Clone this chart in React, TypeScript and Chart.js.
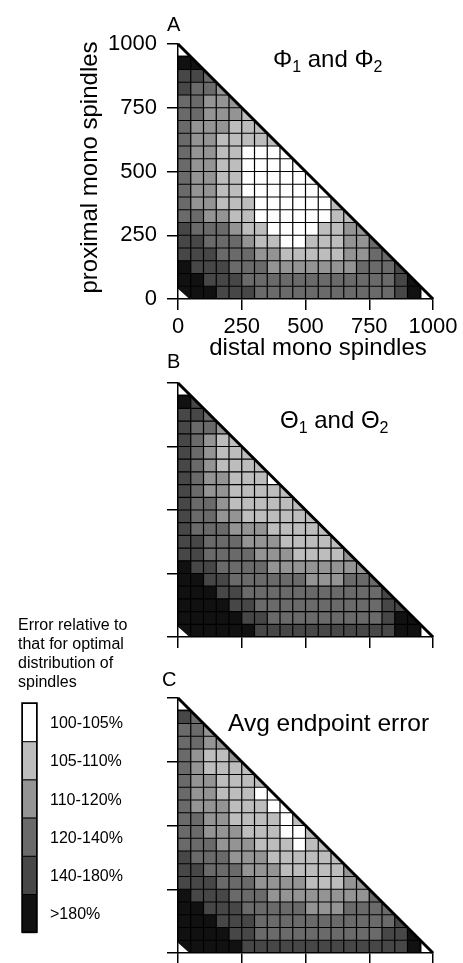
import React, { useEffect, useRef } from 'react';
import { Chart, registerables } from 'chart.js';

Chart.register(...registerables);

const FONT = '"Liberation Sans", Arial, Helvetica, sans-serif';
const AXIS_MAX = 1000;
const CELL = 50;
const TICK_VALUES = [0, 250, 500, 750, 1000];
const TICK_LABELS = ['0', '250', '500', '750', '1000'];
const LEVEL_COLORS = ['#ffffff', '#bdbdbd', '#949494', '#6a6a6a', '#474747', '#111111'];
const LEVEL_LABELS = ['100-105%', '105-110%', '110-120%', '120-140%', '140-180%', '>180%'];
const LEGEND_TITLE = ['Error relative to', 'that for optimal', 'distribution of', 'spindles'];
const X_TITLE = 'distal mono spindles';
const Y_TITLE = 'proximal mono spindles';
// heat-map region (data units): triangle with the three corners cut off
const CLIP_POLY = [[0, 955], [45, 955], [955, 45], [955, 0], [45, 0], [0, 40]];
const DIAGONAL = [{ x: 0, y: AXIS_MAX }, { x: AXIS_MAX, y: 0 }];

// rows of error levels (0 = 100-105% ... 5 = >180%), top row (proximal 950-1000) first,
// each character is one 50x50 cell starting at distal 0
const PHI_ROWS = [
  '5',
  '55',
  '443',
  '4332',
  '33222',
  '332221',
  '3222111',
  '32211111',
  '322110000',
  '3221100000',
  '32211000000',
  '322110000000',
  '3221110000001',
  '33221100000011',
  '433321100001122',
  '4433321100111223',
  '44433322111112233',
  '544433322222223334',
  '5544433333333333345',
  '55544433333333333455',
];

const THETA_ROWS = [
  '5',
  '54',
  '443',
  '4332',
  '43211',
  '432111',
  '4321111',
  '43221110',
  '432211111',
  '4332111111',
  '43322111111',
  '433322211111',
  '4433322211111',
  '44333322211112',
  '544333322222222',
  '5544333333222333',
  '55544333333333334',
  '555544333333333344',
  '5555544333333333455',
  '55555544444444444555',
];

const AVG_ROWS = [
  '5',
  '43',
  '332',
  '3322',
  '32112',
  '321111',
  '3221111',
  '32211100',
  '322211100',
  '3322111101',
  '33222111001',
  '333222111011',
  '4333222111111',
  '44333222111112',
  '444333222211122',
  '5444333222222223',
  '55444333332223333',
  '555444333333333334',
  '5555443333333333445',
  '55555444444444444455',
];

type TitlePart = [string, boolean];
const PHI_TITLE: TitlePart[] = [['Φ', false], ['1', true], [' and Φ', false], ['2', true]];
const THETA_TITLE: TitlePart[] = [['Θ', false], ['1', true], [' and Θ', false], ['2', true]];
const AVG_TITLE: TitlePart[] = [['Avg endpoint error', false]];

interface PanelSpec {
  key: string;
  top: number;
  height: number;
  padTop: number;
  xHeight: number;
  rows: string[];
  title: TitlePart[];
  titleX: number;
  titleY: number;
  titleSize: number;
  label: string;
  labelX: number;
  labelY: number;
  showLabels: boolean;
  axisTitles: boolean;
  legend: boolean;
}

const PANELS: PanelSpec[] = [
  { key: 'A', top: 0, height: 370, padTop: 44, xHeight: 71, rows: PHI_ROWS, title: PHI_TITLE, titleX: 273, titleY: 67, titleSize: 24, label: 'A', labelX: 167, labelY: 31, showLabels: true, axisTitles: true, legend: false },
  { key: 'B', top: 340, height: 315, padTop: 43, xHeight: 18, rows: THETA_ROWS, title: THETA_TITLE, titleX: 280, titleY: 88, titleSize: 24, label: 'B', labelX: 167, labelY: 28, showLabels: false, axisTitles: false, legend: false },
  { key: 'C', top: 600, height: 363, padTop: 98, xHeight: 10, rows: AVG_ROWS, title: AVG_TITLE, titleX: 228, titleY: 131, titleSize: 24.5, label: 'C', labelX: 162, labelY: 86, showLabels: false, axisTitles: false, legend: true },
];

function makePlugin(spec: PanelSpec) {
  return {
    id: 'panel' + spec.key,
    beforeDraw(chart: any) {
      const { ctx } = chart;
      const x = chart.scales.x;
      const y = chart.scales.y;
      ctx.save();
      ctx.beginPath();
      CLIP_POLY.forEach(([px, py], k) => {
        const X = x.getPixelForValue(px);
        const Y = y.getPixelForValue(py);
        if (k === 0) ctx.moveTo(X, Y);
        else ctx.lineTo(X, Y);
      });
      ctx.closePath();
      ctx.clip();
      const n = spec.rows.length;
      spec.rows.forEach((row, r) => {
        const j = n - 1 - r;
        for (let i = 0; i < row.length; i++) {
          const lvl = Number(row[i]);
          const x0 = x.getPixelForValue(i * CELL);
          const x1 = x.getPixelForValue((i + 1) * CELL);
          const y0 = y.getPixelForValue((j + 1) * CELL);
          const y1 = y.getPixelForValue(j * CELL);
          ctx.fillStyle = LEVEL_COLORS[lvl];
          ctx.fillRect(x0, y0, x1 - x0 + 0.6, y1 - y0 + 0.6);
        }
      });
      ctx.restore();
      // grid overlay inside the triangle
      ctx.save();
      ctx.strokeStyle = '#000';
      ctx.lineWidth = 1.2;
      ctx.beginPath();
      for (let v = CELL; v < AXIS_MAX; v += CELL) {
        ctx.moveTo(x.getPixelForValue(v), y.getPixelForValue(0));
        ctx.lineTo(x.getPixelForValue(v), y.getPixelForValue(AXIS_MAX - v));
        ctx.moveTo(x.getPixelForValue(0), y.getPixelForValue(v));
        ctx.lineTo(x.getPixelForValue(AXIS_MAX - v), y.getPixelForValue(v));
      }
      ctx.stroke();
      ctx.restore();
    },
    afterDraw(chart: any) {
      const { ctx, chartArea } = chart;
      ctx.save();
      ctx.fillStyle = '#000';
      ctx.textBaseline = 'alphabetic';
      ctx.textAlign = 'left';
      ctx.font = `20px ${FONT}`;
      ctx.fillText(spec.label, spec.labelX, spec.labelY);
      let tx = spec.titleX;
      for (const [t, sub] of spec.title) {
        ctx.font = `${sub ? 16 : spec.titleSize}px ${FONT}`;
        ctx.fillText(t, tx, spec.titleY + (sub ? 5 : 0));
        tx += ctx.measureText(t).width;
      }
      if (spec.axisTitles) {
        ctx.font = `24px ${FONT}`;
        ctx.textAlign = 'center';
        ctx.fillText(X_TITLE, 318, 355);
        ctx.save();
        ctx.translate(90, (chartArea.top + chartArea.bottom) / 2 - 4);
        ctx.rotate(-Math.PI / 2);
        ctx.textBaseline = 'middle';
        ctx.fillText(Y_TITLE, 0, 0);
        ctx.restore();
      }
      if (spec.legend) {
        ctx.textAlign = 'left';
        ctx.textBaseline = 'alphabetic';
        ctx.font = `16px ${FONT}`;
        LEGEND_TITLE.forEach((line, k) => ctx.fillText(line, 18, 30 + k * 19));
        const bx = 22, bw = 15, by = 103, bh = 38.2;
        LEVEL_COLORS.forEach((c, k) => {
          ctx.fillStyle = c;
          ctx.fillRect(bx, by + k * bh, bw, bh);
          ctx.strokeStyle = '#000';
          ctx.lineWidth = 1;
          ctx.strokeRect(bx + 0.5, by + k * bh + 0.5, bw - 1, bh);
          ctx.fillStyle = '#000';
          ctx.fillText(LEVEL_LABELS[k], 50, by + k * bh + bh / 2 + 6);
        });
        ctx.lineWidth = 1.5;
        ctx.strokeRect(bx, by, bw, bh * LEVEL_COLORS.length);
      }
      ctx.restore();
    },
  };
}

function Panel({ spec }: { spec: PanelSpec }) {
  const ref = useRef<HTMLCanvasElement>(null);
  useEffect(() => {
    if (!ref.current) return;
    const axisCommon = (isX: boolean) => ({
      type: 'linear' as const,
      position: isX ? ('bottom' as const) : ('left' as const),
      min: 0,
      max: AXIS_MAX,
      afterBuildTicks: (s: any) => {
        s.ticks = TICK_VALUES.map((v) => ({ value: v }));
      },
      afterFit: (s: any) => {
        if (isX) s.height = spec.xHeight;
        else s.width = 178;
      },
      ticks: {
        display: spec.showLabels,
        padding: isX ? 4 : 10,
        color: '#000',
        autoSkip: false,
        maxRotation: 0,
        font: { family: FONT, size: 22 },
        callback: (v: any) => TICK_LABELS[TICK_VALUES.indexOf(Number(v))] ?? '',
      },
      grid: { drawOnChartArea: false, drawTicks: true, tickLength: 11, color: '#000', lineWidth: 1.5 },
      border: { display: true, color: '#000', width: 1.5 },
    });
    const chart = new Chart(ref.current, {
      type: 'scatter',
      data: {
        datasets: [
          {
            data: DIAGONAL,
            showLine: true,
            borderColor: '#000',
            borderWidth: 3,
            pointRadius: 0,
            pointHoverRadius: 0,
            clip: false as any,
          } as any,
        ],
      },
      options: {
        responsive: false,
        animation: false,
        devicePixelRatio: 1,
        events: [],
        layout: { padding: { left: 0, right: 30, top: spec.padTop, bottom: 0 } },
        plugins: { legend: { display: false }, tooltip: { enabled: false }, title: { display: false } },
        scales: { x: axisCommon(true) as any, y: axisCommon(false) as any },
      },
      plugins: [makePlugin(spec)],
    });
    return () => chart.destroy();
  }, [spec]);
  return (
    <canvas
      ref={ref}
      width={463}
      height={spec.height}
      style={{ position: 'absolute', left: 0, top: spec.top, width: 463, height: spec.height }}
    />
  );
}

export default function App() {
  return (
    <div style={{ position: 'absolute', left: 0, top: 0, width: 463, height: 963, background: '#fff', overflow: 'hidden' }}>
      {PANELS.map((p) => (
        <Panel key={p.key} spec={p} />
      ))}
    </div>
  );
}
